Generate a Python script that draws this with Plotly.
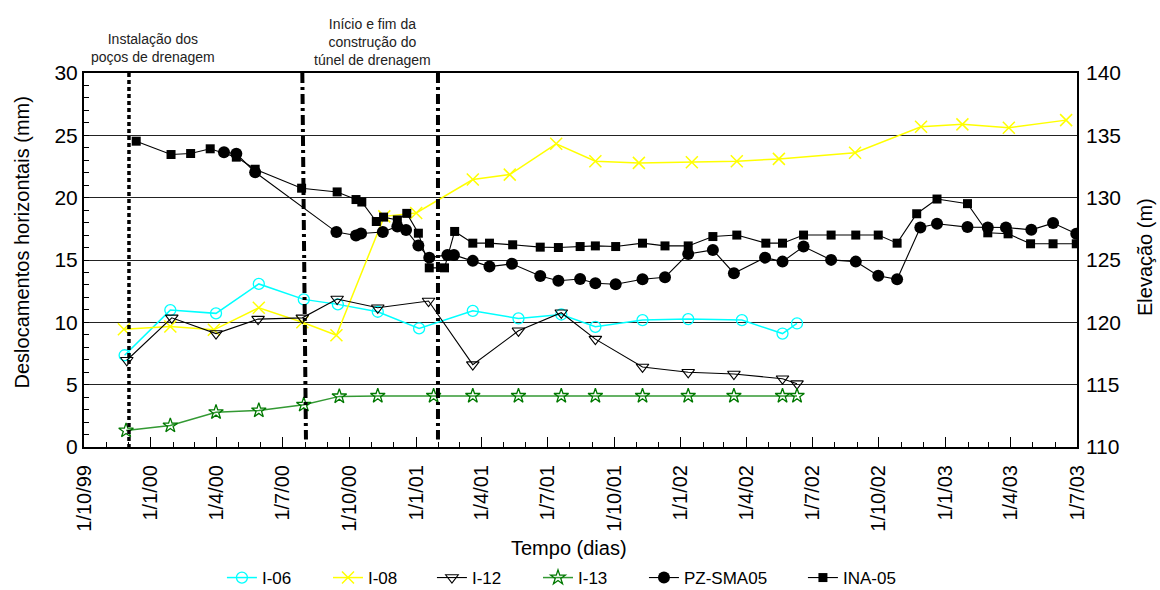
import plotly.graph_objects as go

# ---- Inclinometers: horizontal displacement (mm) ----
i06_dates = ["1999-11-26", "2000-01-28", "2000-03-31", "2000-05-29", "2000-07-30", "2000-09-15",
             "2000-11-09", "2001-01-05", "2001-03-20", "2001-05-22", "2001-07-20", "2001-09-05",
             "2001-11-09", "2002-01-11", "2002-03-26", "2002-05-21", "2002-06-10"]
i06_vals = [7.36, 10.98, 10.72, 13.08, 11.84, 11.44, 10.85, 9.51, 10.92, 10.31, 10.63, 9.64,
            10.18, 10.26, 10.18, 9.1, 9.91]

i08_dates = ["1999-11-25", "2000-01-28", "2000-03-28", "2000-05-29", "2000-07-28", "2000-09-13",
             "2000-11-18", "2001-01-01", "2001-03-20", "2001-05-10", "2001-07-13", "2001-09-05",
             "2001-11-04", "2002-01-16", "2002-03-19", "2002-05-16", "2002-08-29", "2002-11-28",
             "2003-01-24", "2003-03-29", "2003-06-16"]
i08_vals = [9.45, 9.67, 9.4, 11.17, 10.0, 8.97, 18.5, 18.77, 21.45, 21.85, 24.32, 22.92,
            22.79, 22.84, 22.92, 23.11, 23.6, 25.69, 25.88, 25.61, 26.22]

i12_dates = ["1999-11-29", "2000-01-30", "2000-03-31", "2000-05-28", "2000-07-28", "2000-09-14",
             "2000-11-09", "2001-01-18", "2001-03-20", "2001-05-22", "2001-07-20", "2001-09-05",
             "2001-11-09", "2002-01-11", "2002-03-15", "2002-05-21", "2002-06-10"]
i12_vals = [6.96, 10.36, 9.1, 10.26, 10.36, 11.87, 11.17, 11.71, 6.61, 9.32, 10.77, 8.65,
            6.42, 5.99, 5.85, 5.48, 5.08]

i13_dates = ["1999-11-28", "2000-01-28", "2000-03-31", "2000-05-29", "2000-07-30", "2000-09-17",
             "2000-11-09", "2001-01-25", "2001-03-20", "2001-05-22", "2001-07-20", "2001-09-05",
             "2001-11-09", "2002-01-11", "2002-03-15", "2002-05-21", "2002-06-10"]
i13_vals = [1.32, 1.72, 2.79, 2.93, 3.39, 4.06, 4.1, 4.1, 4.1, 4.1, 4.1, 4.1,
            4.1, 4.1, 4.1, 4.1, 4.1]

# ---- Piezometer and water-level gauge: elevation (m) ----
pz_dates = ["2000-04-11", "2000-04-28", "2000-05-24", "2000-09-13", "2000-10-10", "2000-10-17",
            "2000-11-16", "2000-12-06", "2000-12-18", "2001-01-04", "2001-01-19", "2001-02-13",
            "2001-02-22", "2001-03-20", "2001-04-12", "2001-05-13", "2001-06-21", "2001-07-16",
            "2001-08-15", "2001-09-05", "2001-10-03", "2001-11-09", "2001-12-10", "2002-01-11",
            "2002-02-14", "2002-03-15", "2002-04-27", "2002-05-21", "2002-06-19", "2002-07-27",
            "2002-08-30", "2002-09-30", "2002-10-26", "2002-11-27", "2002-12-20", "2003-01-31",
            "2003-02-28", "2003-03-25", "2003-04-29", "2003-05-29", "2003-06-30"]
pz_vals = [133.65, 133.52, 132.04, 127.24, 126.97, 127.13, 127.24, 127.69, 127.4, 126.16,
           125.19, 125.41, 125.41, 124.93, 124.47, 124.69, 123.72, 123.34, 123.48, 123.13,
           123.05, 123.45, 123.62, 125.49, 125.81, 123.94, 125.19, 124.87, 126.08, 125.01,
           124.87, 123.74, 123.45, 127.61, 127.91, 127.64, 127.61, 127.61, 127.42, 127.96,
           127.1]

ina_dates = ["1999-12-12", "2000-01-29", "2000-02-25", "2000-03-23", "2000-04-28", "2000-05-24",
             "2000-07-27", "2000-09-14", "2000-10-10", "2000-10-18", "2000-11-07", "2000-11-17",
             "2000-12-06", "2000-12-19", "2001-01-04", "2001-01-19", "2001-02-09", "2001-02-23",
             "2001-03-20", "2001-04-12", "2001-05-14", "2001-06-21", "2001-07-16", "2001-08-15",
             "2001-09-05", "2001-10-03", "2001-11-09", "2001-12-10", "2002-01-11", "2002-02-14",
             "2002-03-19", "2002-04-28", "2002-05-21", "2002-06-19", "2002-07-27", "2002-08-30",
             "2002-09-30", "2002-10-26", "2002-11-22", "2002-12-20", "2003-01-31", "2003-02-28",
             "2003-03-28", "2003-04-28", "2003-05-29", "2003-06-30"]
ina_vals = [134.53, 133.46, 133.54, 133.92, 133.25, 132.28, 130.76, 130.46, 129.85, 129.65,
            128.09, 128.44, 128.21, 128.74, 127.15, 124.37, 124.37, 127.29, 126.35, 126.35,
            126.22, 126.03, 126.0, 126.08, 126.13, 126.08, 126.35, 126.13, 126.13, 126.88,
            127.0, 126.35, 126.35, 127.0, 127.0, 127.0, 127.0, 126.35, 128.71, 129.89,
            129.52, 127.18, 127.1, 126.3, 126.3, 126.3]

# ---- Works events ----
wells_installed = "1999-12-02"
tunnel_start = ["2000-07-28", "2000-08-02"]   # top / bottom of the marker line
tunnel_end = "2001-01-31"

x_range = ["1999-10-01", "2003-07-01"]
left_ticks = [0, 5, 10, 15, 20, 25, 30]
right_ticks = [110, 115, 120, 125, 130, 135, 140]

FONT = "Liberation Sans, Arial, sans-serif"

# one legend box per series so the entries can be spaced along the bottom
legend_x = [0.1389, 0.2457, 0.3504, 0.4572, 0.5639, 0.7240]

fig = go.Figure()

fig.add_trace(go.Scatter(
    x=i06_dates, y=i06_vals, name="I-06", mode="lines+markers", legend="legend",
    line=dict(color="#00FFFF", width=1.5),
    marker=dict(symbol="circle-open", size=11, color="#00FFFF", line=dict(width=1.3))))
fig.add_trace(go.Scatter(
    x=i08_dates, y=i08_vals, name="I-08", mode="lines+markers", legend="legend2",
    line=dict(color="#FFFF00", width=1.5),
    marker=dict(symbol="x-thin-open", size=12, color="#FFFF00", line=dict(width=1.5, color="#FFFF00"))))
fig.add_trace(go.Scatter(
    x=i12_dates, y=i12_vals, name="I-12", mode="lines+markers", legend="legend3",
    line=dict(color="black", width=1.1),
    marker=dict(symbol="triangle-down-open", size=11, color="black", line=dict(width=1.1))))
fig.add_trace(go.Scatter(
    x=i13_dates, y=i13_vals, name="I-13", mode="lines+markers", legend="legend4",
    line=dict(color="#339933", width=1.5),
    marker=dict(symbol="star-open", size=11, color="#007800", line=dict(width=1.3))))
fig.add_trace(go.Scatter(
    x=pz_dates, y=pz_vals, name="PZ-SMA05", mode="lines+markers", yaxis="y2", legend="legend5",
    line=dict(color="black", width=1.1),
    marker=dict(symbol="circle", size=12, color="black")))
fig.add_trace(go.Scatter(
    x=ina_dates, y=ina_vals, name="INA-05", mode="lines+markers", yaxis="y2", legend="legend6",
    line=dict(color="black", width=1.1),
    marker=dict(symbol="square", size=9, color="black")))

# event marker lines
fig.add_shape(type="line", xref="x", yref="y", x0=wells_installed, x1=wells_installed,
              y0=30, y1=0, line=dict(color="black", width=3.5, dash="4px,3px"))
fig.add_shape(type="line", xref="x", yref="y", x0=tunnel_start[0], x1=tunnel_start[1],
              y0=30, y1=0.6, line=dict(color="black", width=4, dash="10px,4px,3px,4px"))
fig.add_shape(type="line", xref="x", yref="y", x0=tunnel_end, x1=tunnel_end,
              y0=30, y1=0.6, line=dict(color="black", width=4, dash="10px,4px,3px,4px"))

annotations = [
    dict(text="Instalação dos<br>poços de drenagem", x=0.0695, y=1.068, xref="paper", yref="paper",
         xanchor="center", yanchor="middle", showarrow=False, font=dict(size=14, color="#222")),
    dict(text="Início e fim da<br>construção do<br>túnel de drenagem", x=0.291, y=1.084,
         xref="paper", yref="paper", xanchor="center", yanchor="middle", showarrow=False,
         font=dict(size=14, color="#222")),
    dict(text="Tempo (dias)", x=0.4884, y=-0.270, xref="paper", yref="paper",
         xanchor="center", yanchor="middle", showarrow=False, font=dict(size=20, color="black")),
    dict(text="Deslocamentos horizontais (mm)", x=-0.0624, y=0.547, xref="paper", yref="paper",
         xanchor="center", yanchor="middle", textangle=-90, showarrow=False,
         font=dict(size=20, color="black")),
    dict(text="Elevação (m)", x=1.0685, y=0.508, xref="paper", yref="paper",
         xanchor="center", yanchor="middle", textangle=-90, showarrow=False,
         font=dict(size=20, color="black")),
]

legend_common = dict(orientation="h", xanchor="left", y=-0.3503, yanchor="middle",
                     font=dict(size=17), bgcolor="rgba(0,0,0,0)")
legends = {("legend" if i == 0 else f"legend{i + 1}"): dict(legend_common, x=lx)
           for i, lx in enumerate(legend_x)}

fig.update_layout(
    width=1160, height=590,
    margin=dict(l=84, r=83, t=73, b=143, autoexpand=False),
    paper_bgcolor="white", plot_bgcolor="white",
    font=dict(family=FONT, color="black"),
    showlegend=True,
    annotations=annotations,
    xaxis=dict(
        type="date", range=x_range, tick0="1999-10-01", dtick="M3",
        tickformat="%-d/%-m/%y", tickangle=-90, tickfont=dict(size=20),
        ticks="inside", ticklen=10, tickwidth=1, tickcolor="black", ticklabelstandoff=8,
        minor=dict(dtick="M1", ticks="inside", ticklen=5, tickcolor="black", showgrid=False),
        showgrid=False, showline=True, linecolor="black", linewidth=2, mirror=True, zeroline=False,
    ),
    yaxis=dict(
        range=[0, 30], tickvals=left_ticks, tickfont=dict(size=21),
        ticks="inside", ticklen=5, tickcolor="black",
        minor=dict(dtick=1, ticks="inside", ticklen=5, tickcolor="black", showgrid=False),
        showgrid=True, gridcolor="#222", gridwidth=1.3,
        showline=True, linecolor="black", linewidth=2, mirror=True, zeroline=False,
    ),
    yaxis2=dict(
        range=[110, 140], tickvals=right_ticks, tickfont=dict(size=21),
        overlaying="y", side="right", ticks="", showgrid=False, zeroline=False,
        ticklabelstandoff=8,
    ),
    **legends,
)

fig.write_html("out.html")
